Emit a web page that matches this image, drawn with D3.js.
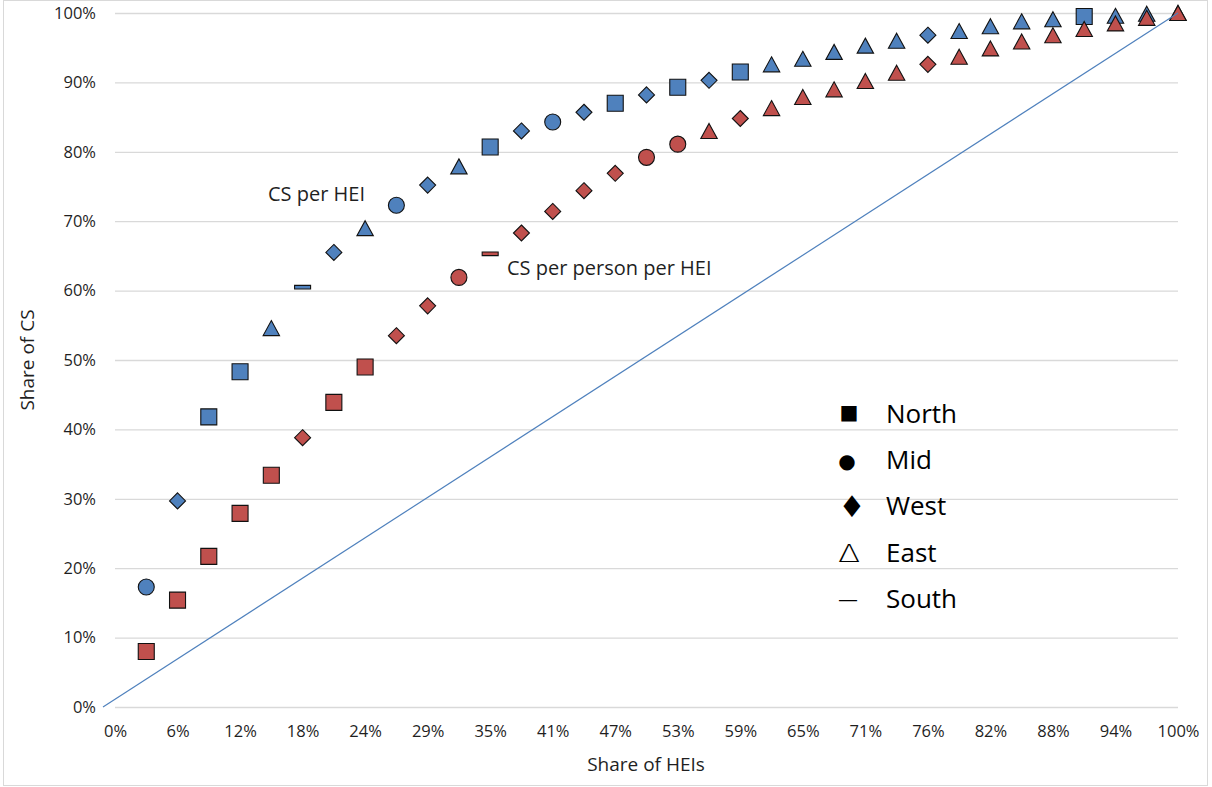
<!DOCTYPE html>
<html>
<head>
<meta charset="utf-8">
<script src="https://cdn.jsdelivr.net/npm/d3@7"></script>
<style>
  html, body { margin: 0; padding: 0; background: #ffffff; }
  svg { display: block; font-family: "Open Sans", "Noto Sans", sans-serif; }
</style>
</head>
<body>
<svg id="chart" width="1212" height="787"></svg>
<script>
// ---------------- DATA ----------------
const heiRank = [1,2,3,4,5,6,7,8,9,10,11,12,13,14,15,16,17,18,19,20,21,22,23,24,25,26,27,28,29,30,31,32,33,34];
const xTickRanks = [0,2,4,6,8,10,12,14,16,18,20,22,24,26,28,30,32,34];
const xTickLabels = ["0%","6%","12%","18%","24%","29%","35%","41%","47%","53%","59%","65%","71%","76%","82%","88%","94%","100%"];
const yTickValues = [0,10,20,30,40,50,60,70,80,90,100];
const yTickLabels = ["0%","10%","20%","30%","40%","50%","60%","70%","80%","90%","100%"];

const csPerHEI = [17.3,29.7,41.8,48.3,54.6,60.5,65.5,69.0,72.3,75.2,77.9,80.7,83.0,84.3,85.7,87.0,88.2,89.3,90.3,91.5,92.6,93.4,94.4,95.3,96.0,96.8,97.4,98.1,98.8,99.1,99.5,99.6,99.9,100];
const csPerHEIRegion = ["Mid","West","North","North","East","South","West","East","Mid","West","East","North","West","Mid","West","North","West","North","West","North","East","East","East","East","East","West","East","East","East","East","North","East","East","East"];

const csPerPerson = [8.0,15.4,21.7,27.9,33.4,38.8,43.9,49.0,53.5,57.8,61.9,65.3,68.3,71.4,74.4,76.9,79.2,81.1,83.0,84.8,86.3,87.9,89.0,90.2,91.4,92.6,93.7,94.9,95.9,96.8,97.7,98.5,99.3,100];
const csPerPersonRegion = ["North","North","North","North","North","West","North","North","West","West","Mid","South","West","West","West","West","Mid","Mid","East","West","East","East","East","East","East","West","East","East","East","East","East","East","East","East"];

const diagonal = [[0,0],[34,100]];

const legendRegions = ["North","Mid","West","East","South"];
const legendSymbols = ["\u25A0","\u25CF","\u2666","\u0394","\u2014"];

// ---------------- LAYOUT ----------------
const W = 1212, H = 787;
const plot = { left: 115, right: 1178, top: 13, bottom: 707 };
const colors = { blue: "#4F81BD", red: "#C0504D", grid: "#d9d9d9", text: "#1f1f1f" };

const svg = d3.select("#chart");

// chart border
svg.append("rect")
  .attr("x", 3.5).attr("y", 0.5).attr("width", W - 8).attr("height", H - 2)
  .attr("fill", "none").attr("stroke", "#d9d9d9").attr("stroke-width", 1);

const x = d3.scaleLinear().domain([0, 34]).range([plot.left, plot.right]);
const xDiag = d3.scaleLinear().domain([0, 34]).range([plot.left - 12, plot.right]);
const y = d3.scaleLinear().domain([0, 100]).range([plot.bottom, plot.top]);

// gridlines (y axis)
const yAxis = d3.axisLeft(y)
  .tickValues(yTickValues)
  .tickSize(-(plot.right - plot.left))
  .tickPadding(19)
  .tickFormat((d, i) => yTickLabels[i]);

const gy = svg.append("g")
  .attr("transform", `translate(${plot.left},0)`)
  .call(yAxis);
gy.select(".domain").remove();
gy.selectAll(".tick line").attr("stroke", colors.grid).attr("stroke-width", 1.3);
gy.selectAll(".tick text")
  .attr("fill", colors.text)
  .style("font-size", "16.5px")
  .style("font-family", "'Open Sans', sans-serif");

// x axis labels
const xAxis = d3.axisBottom(x)
  .tickValues(xTickRanks)
  .tickSize(0)
  .tickPadding(18)
  .tickFormat((d, i) => xTickLabels[i]);
const gx = svg.append("g")
  .attr("transform", `translate(0,${plot.bottom})`)
  .call(xAxis);
gx.select(".domain").remove();
gx.selectAll(".tick text")
  .attr("fill", colors.text)
  .style("font-size", "16.5px")
  .style("font-family", "'Open Sans', sans-serif");

// axis titles
svg.append("text")
  .attr("x", (plot.left + plot.right) / 2 - 0.5)
  .attr("y", 771)
  .attr("text-anchor", "middle")
  .attr("fill", colors.text)
  .style("font-size", "19px")
  .text("Share of HEIs");

svg.append("text")
  .attr("transform", `translate(34,${(plot.top + plot.bottom) / 2}) rotate(-90)`)
  .attr("text-anchor", "middle")
  .attr("fill", colors.text)
  .style("font-size", "19px")
  .text("Share of CS");

// markers
function markerPath(region) {
  switch (region) {
    case "North": return "M-8,-8H8V8H-8Z";
    case "Mid": return "M-8,0A8,8 0 1,0 8,0A8,8 0 1,0 -8,0Z";
    case "West": return "M0,-8L8,0L0,8L-8,0Z";
    case "East": return "M0,-7.5L8.2,7.5L-8.2,7.5Z";
    case "South": return "M-8,-1.8H8V1.8H-8Z";
  }
}

function drawSeries(values, regions, fill) {
  svg.append("g")
    .selectAll("path")
    .data(heiRank.map((r, i) => ({ r, v: values[i], reg: regions[i] })))
    .join("path")
    .attr("transform", d => `translate(${x(d.r)},${y(d.v)})`)
    .attr("d", d => markerPath(d.reg))
    .attr("fill", fill)
    .attr("stroke", "#111")
    .attr("stroke-width", 1.1);
}

drawSeries(csPerHEI, csPerHEIRegion, colors.blue);
drawSeries(csPerPerson, csPerPersonRegion, colors.red);

// diagonal line
svg.append("path")
  .datum(diagonal)
  .attr("d", d3.line().x(d => xDiag(d[0])).y(d => y(d[1])))
  .attr("fill", "none")
  .attr("stroke", colors.blue)
  .attr("stroke-width", 1.2);

// series labels
svg.append("text")
  .attr("x", 268).attr("y", 201)
  .attr("fill", colors.text)
  .style("font-size", "20px")
  .text("CS per HEI");
svg.append("text")
  .attr("x", 507).attr("y", 275)
  .attr("fill", colors.text)
  .style("font-size", "20px")
  .text("CS per person per HEI");

// legend (text box)
const legend = svg.append("g");
const legendTop = 422.7, legendStep = 46.3;
const symStyle = [
  { x: 849, size: 20, dy: -4, sx: 1, font: "DejaVu Sans" },
  { x: 847, size: 20, dy: -1, sx: 1, font: "DejaVu Sans" },
  { x: 852, size: 30, dy: 2, sx: 1, font: "DejaVu Sans" },
  { x: 849, size: 25, dy: 0, sx: 1.3, font: "DejaVu Sans" },
  { x: 848, size: 20, dy: -2, sx: 1, font: "DejaVu Sans" }
];
legendRegions.forEach((reg, i) => {
  const by = legendTop + i * legendStep;
  const s = symStyle[i];
  legend.append("text")
    .attr("transform", `translate(${s.x},${by + s.dy}) scale(${s.sx},1)`)
    .attr("text-anchor", "middle")
    .attr("fill", "#000")
    .style("font-family", s.font)
    .style("font-size", s.size + "px")
    .style("font-weight", i === 3 ? "300" : "normal")
    .text(legendSymbols[i]);
  legend.append("text")
    .attr("x", 886).attr("y", by)
    .attr("fill", "#000")
    .style("font-size", "26px")
    .text(reg);
});
</script>
</body>
</html>
